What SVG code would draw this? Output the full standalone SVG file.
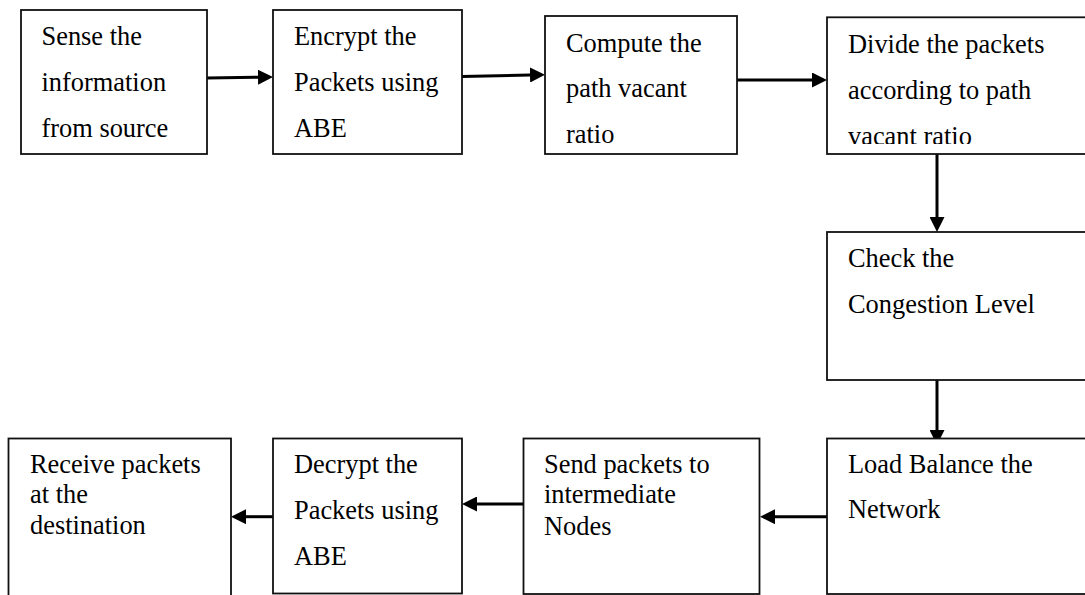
<svg xmlns="http://www.w3.org/2000/svg" width="1085" height="595" viewBox="0 0 1085 595">
  <style>
    .box { fill: #fff; stroke: #111; stroke-width: 1.8; }
    .label { font-family: "Liberation Serif", "Times New Roman", serif; font-size: 26.4px; fill: #000; }
    .conn { fill: none; stroke: #000; stroke-width: 3; }
  </style>
  <defs>
    <marker id="head" markerUnits="userSpaceOnUse" markerWidth="15" markerHeight="15" viewBox="0 0 15 15" refX="0" refY="7.5" orient="auto">
      <path d="M0,0 L15,7.5 L0,15 Z" fill="#000"/>
    </marker>
    <clipPath id="clip-divide">
      <rect x="826" y="17" width="260" height="127"/>
    </clipPath>
  </defs>
  <rect width="1085" height="595" fill="#fff"/>

  <g id="connectors">
    <path class="conn" d="M207,78 L258,77.2" marker-end="url(#head)"/>
    <path class="conn" d="M462,76.5 L530,75" marker-end="url(#head)"/>
    <path class="conn" d="M737,80 L812,80" marker-end="url(#head)"/>
    <path class="conn" d="M937,154 L937,217" marker-end="url(#head)"/>
    <path class="conn" d="M937,380 L937,430" marker-end="url(#head)"/>
    <path class="conn" d="M827,516.7 L775,516.7" marker-end="url(#head)"/>
    <path class="conn" d="M523,504 L477,504" marker-end="url(#head)"/>
    <path class="conn" d="M273,516.7 L246,516.7" marker-end="url(#head)"/>
  </g>

  <g id="sense">
    <rect class="box" x="21" y="10" width="186" height="144"/>
    <text class="label" x="41.5" y="45">Sense the</text>
    <text class="label" x="41.5" y="91">information</text>
    <text class="label" x="41.5" y="137">from source</text>
  </g>

  <g id="encrypt">
    <rect class="box" x="273" y="10" width="189" height="144"/>
    <text class="label" x="294" y="45">Encrypt the</text>
    <text class="label" x="294" y="91">Packets using</text>
    <text class="label" x="294" y="137">ABE</text>
  </g>

  <g id="compute">
    <rect class="box" x="545" y="16" width="192" height="138"/>
    <text class="label" x="566" y="51.7">Compute the</text>
    <text class="label" x="566" y="97">path vacant</text>
    <text class="label" x="566" y="142.7">ratio</text>
  </g>

  <g id="divide">
    <rect class="box" x="827" y="17.3" width="270" height="136.7"/>
    <g clip-path="url(#clip-divide)">
      <text class="label" x="848" y="53.3">Divide the packets</text>
      <text class="label" x="848" y="99">according to path</text>
      <text class="label" x="848" y="145">vacant ratio</text>
    </g>
  </g>

  <g id="congestion">
    <rect class="box" x="827" y="232" width="270" height="148"/>
    <text class="label" x="848" y="267">Check the</text>
    <text class="label" x="848" y="313">Congestion Level</text>
  </g>

  <g id="balance">
    <rect class="box" x="827" y="438.5" width="270" height="155.5"/>
    <text class="label" x="848" y="472.7">Load Balance the</text>
    <text class="label" x="848" y="518.3">Network</text>
  </g>

  <g id="send">
    <rect class="box" x="523.5" y="438.5" width="236" height="155.5"/>
    <text class="label" x="544" y="472.7">Send packets to</text>
    <text class="label" x="544" y="503.3">intermediate</text>
    <text class="label" x="544" y="535">Nodes</text>
  </g>

  <g id="decrypt">
    <rect class="box" x="273" y="438.5" width="189" height="155"/>
    <text class="label" x="294" y="472.7">Decrypt the</text>
    <text class="label" x="294" y="519.3">Packets using</text>
    <text class="label" x="294" y="565">ABE</text>
  </g>

  <g id="receive">
    <rect class="box" x="8.5" y="438.5" width="222.5" height="160"/>
    <text class="label" x="30" y="472.7">Receive packets</text>
    <text class="label" x="30" y="503.3">at the</text>
    <text class="label" x="30" y="534">destination</text>
  </g>
</svg>
